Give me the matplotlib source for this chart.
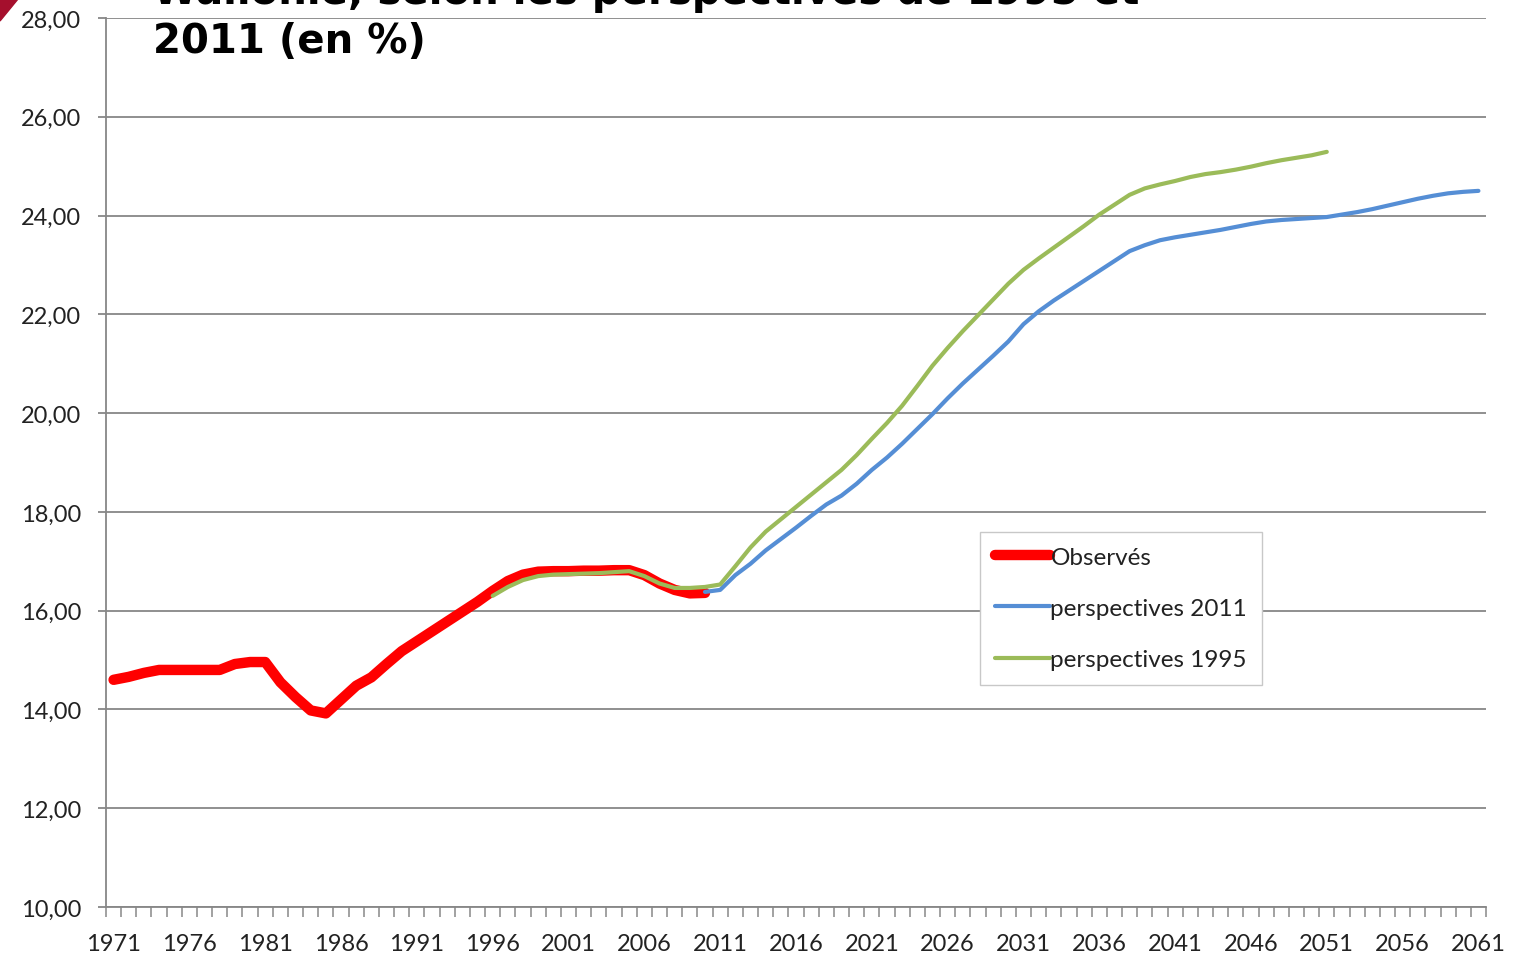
import numpy as np
import matplotlib
matplotlib.use("Agg")
import matplotlib.pyplot as plt
from matplotlib.patches import Polygon
from matplotlib.ticker import FuncFormatter

# Observés 1971-2010
obs_years = list(range(1971, 2011))
obs_values = [14.60, 14.66, 14.74, 14.80, 14.80, 14.80, 14.80, 14.80, 14.92, 14.96,
              14.96, 14.55, 14.25, 13.98, 13.92, 14.20, 14.48, 14.65, 14.92, 15.18,
              15.38, 15.58, 15.78, 15.98, 16.18, 16.40, 16.60, 16.73, 16.79, 16.80,
              16.80, 16.81, 16.81, 16.82, 16.82, 16.72, 16.55, 16.42, 16.35, 16.36]

# perspectives 2011 (2010-2061)
p2011_years = list(range(2010, 2062))
p2011_values = [16.38, 16.42, 16.72, 16.95, 17.22, 17.45, 17.68, 17.92, 18.15, 18.33,
                18.57, 18.85, 19.10, 19.38, 19.68, 19.98, 20.30, 20.60, 20.88, 21.16,
                21.45, 21.80, 22.06, 22.28, 22.48, 22.68, 22.88, 23.08, 23.28, 23.40,
                23.50, 23.56, 23.61, 23.66, 23.71, 23.77, 23.83, 23.88, 23.91, 23.93,
                23.95, 23.97, 24.02, 24.07, 24.13, 24.20, 24.27, 24.34, 24.40, 24.45,
                24.48, 24.50]

# perspectives 1995 (1996-2051)
p1995_years = list(range(1996, 2052))
p1995_values = [16.30, 16.48, 16.62, 16.70, 16.73, 16.74, 16.75, 16.76, 16.78, 16.80,
                16.70, 16.55, 16.46, 16.46, 16.48, 16.53, 16.90, 17.28, 17.60, 17.85,
                18.10, 18.35, 18.60, 18.85, 19.15, 19.48, 19.80, 20.15, 20.55, 20.96,
                21.32, 21.66, 21.98, 22.30, 22.62, 22.90, 23.13, 23.35, 23.57, 23.79,
                24.02, 24.22, 24.42, 24.55, 24.63, 24.70, 24.78, 24.84, 24.88, 24.93,
                24.99, 25.06, 25.12, 25.17, 25.22, 25.29]

year_ticks = list(range(1971, 2062, 5))
y_ticks = [10, 12, 14, 16, 18, 20, 22, 24, 26, 28]

W, H = 1518, 954
GRID = "#878787"

fig = plt.figure(figsize=(W / 100, H / 100), dpi=100)
ax = fig.add_axes([106 / W, 1 - 908 / H, 1380 / W, 889 / H])

ax.plot(obs_years, obs_values, color="#FF0000", lw=7.5,
        solid_capstyle="round", solid_joinstyle="round", label="Observés", zorder=3)
ax.plot(p2011_years, p2011_values, color="#558ED5", lw=3,
        solid_capstyle="round", solid_joinstyle="round", label="perspectives 2011", zorder=4)
ax.plot(p1995_years, p1995_values, color="#9BBB59", lw=3,
        solid_capstyle="round", solid_joinstyle="round", label="perspectives 1995", zorder=5)

ax.set_xlim(1970.5, 2061.5)
ax.set_ylim(10, 28)
ax.set_yticks(y_ticks)
ax.yaxis.set_major_formatter(FuncFormatter(lambda v, p: f"{v:.2f}".replace(".", ",")))
ax.set_xticks(year_ticks)
ax.set_xticks(np.arange(1970.5, 2062, 1), minor=True)

ax.grid(axis="y", color=GRID, lw=1.3)
ax.set_axisbelow(True)
for s in ["top", "right"]:
    ax.spines[s].set_visible(False)
for s in ["left", "bottom"]:
    ax.spines[s].set_color(GRID)
    ax.spines[s].set_linewidth(1.3)

ax.tick_params(axis="y", length=6, width=1.3, color=GRID, pad=12,
               labelsize=17, labelcolor="#222222")
ax.tick_params(axis="x", which="major", length=0, pad=19,
               labelsize=17, labelcolor="#222222")
ax.tick_params(axis="x", which="minor", length=7, width=1.1, color=GRID)
for lab in ax.get_xticklabels() + ax.get_yticklabels():
    lab.set_family("Lato")

leg = ax.legend(loc="upper left", bbox_to_anchor=(980 / W, 1 - 533 / H),
                bbox_transform=fig.transFigure, borderaxespad=0,
                fancybox=False, framealpha=1, edgecolor="#C8C8C8",
                prop={"family": "Lato", "size": 17.5}, handlelength=2.3,
                handletextpad=0.0, labelspacing=1.25, borderpad=0.6)
leg.get_frame().set_linewidth(1.0)
for t in leg.get_texts():
    t.set_color("#222222")

# title, first line cut off at top of the slide
fig.text(153 / W, 1 - 4 / H, "Wallonie, selon les perspectives de 1995 et",
         fontsize=29, fontweight="bold", family="DejaVu Sans",
         va="baseline", ha="left")
fig.text(153 / W, 1 - 53 / H, "2011 (en %)",
         fontsize=29, fontweight="bold", family="DejaVu Sans",
         va="baseline", ha="left")

# small slide decoration in top-left corner
fig.patches.append(Polygon([(0, 1), (18 / W, 1), (0, 1 - 22 / H)], closed=True,
                           transform=fig.transFigure, color="#A50F2D"))

fig.savefig("out.png", dpi=100)
